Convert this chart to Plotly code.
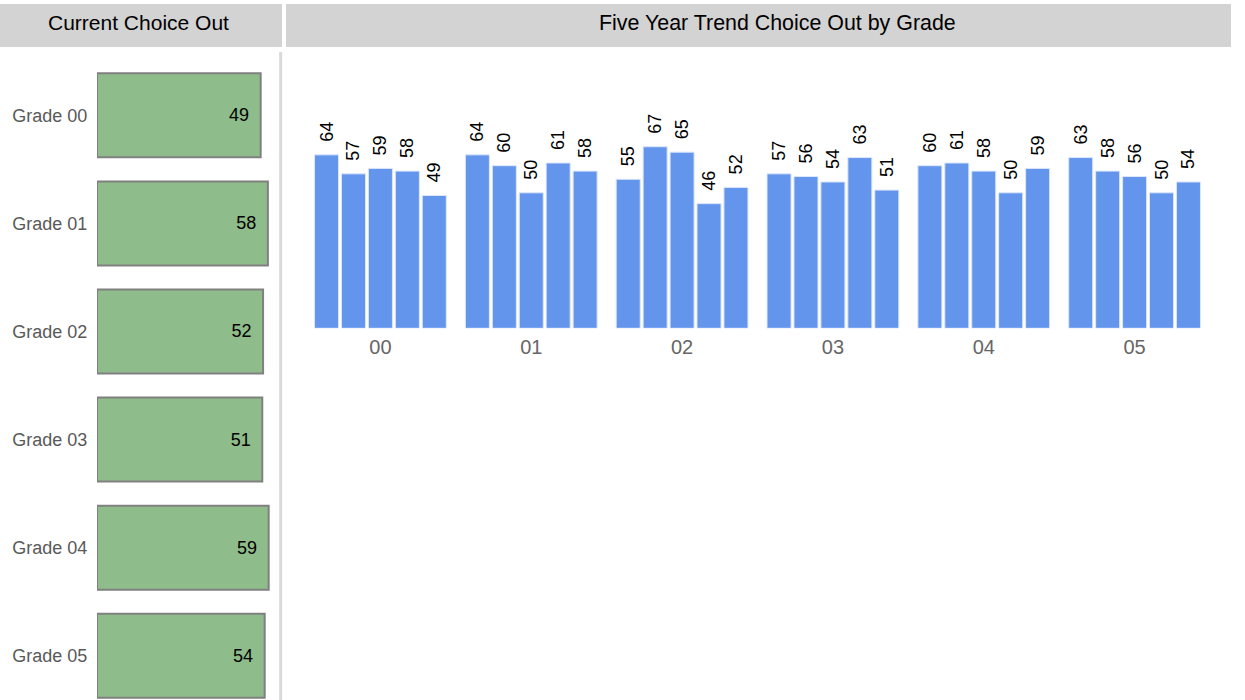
import plotly.graph_objects as go

# ---- data ----
grade_codes = ["00", "01", "02", "03", "04", "05"]
grade_labels = ["Grade 00", "Grade 01", "Grade 02", "Grade 03", "Grade 04", "Grade 05"]
current_choice_out = [49, 58, 52, 51, 59, 54]

year_names = ["Year 1", "Year 2", "Year 3", "Year 4", "Year 5"]
trend_year1 = [64, 64, 55, 57, 60, 63]
trend_year2 = [57, 60, 67, 56, 61, 58]
trend_year3 = [59, 50, 65, 54, 58, 56]
trend_year4 = [58, 61, 46, 63, 50, 50]
trend_year5 = [49, 58, 52, 51, 59, 54]
trend_series = [trend_year1, trend_year2, trend_year3, trend_year4, trend_year5]

left_title = "Current Choice Out"
right_title = "Five Year Trend Choice Out by Grade"

# ---- layout helpers ----
W, H = 1245, 700
FONT = "Arial, Liberation Sans, sans-serif"
LEFT_AXIS_MIN = -155.6   # value axis of the left panel starts here (bars grow from the axis start)
LEFT_AXIS_MAX = 74.4


def px_x(p):
    return p / W


def px_y(p):
    return 1 - p / H


fig = go.Figure()

# left panel: current values (bars drawn from the start of the value axis)
fig.add_trace(go.Bar(
    x=[v - LEFT_AXIS_MIN for v in current_choice_out],
    base=LEFT_AXIS_MIN,
    y=grade_labels,
    orientation="h",
    width=0.777,
    marker=dict(color="#8FBC8B", line=dict(color="#808080", width=2)),
    text=current_choice_out,
    texttemplate="%{text}\u00a0\u2009",
    textposition="inside",
    insidetextanchor="end",
    insidetextfont=dict(size=18, color="#000000", family=FONT),
    constraintext="none",
    cliponaxis=False,
    xaxis="x",
    yaxis="y",
    hoverinfo="skip",
    showlegend=False,
))

# right panel: five year trend
for name, vals in zip(year_names, trend_series):
    fig.add_trace(go.Bar(
        x=grade_codes,
        y=vals,
        name=name,
        marker=dict(color="#6495ED", line=dict(color="#DCE6FA", width=1)),
        text=vals,
        texttemplate="\u00a0\u00a0%{text}",
        textposition="outside",
        textangle=-90,
        textfont=dict(size=18, color="#000000", family=FONT),
        constraintext="none",
        cliponaxis=False,
        xaxis="x2",
        yaxis="y2",
        showlegend=False,
    ))

fig.update_layout(
    width=W,
    height=H,
    margin=dict(l=0, r=0, t=0, b=0),
    paper_bgcolor="white",
    plot_bgcolor="white",
    barmode="group",
    bargap=0.107,
    bargroupgap=0.108,
    font=dict(family=FONT),
    xaxis=dict(
        domain=[px_x(97), px_x(281)],
        range=[LEFT_AXIS_MIN, LEFT_AXIS_MAX],
        showticklabels=False,
        showgrid=False,
        zeroline=False,
        showline=False,
        anchor="y",
        fixedrange=True,
    ),
    yaxis=dict(
        domain=[0, px_y(61.25)],
        type="category",
        categoryorder="array",
        categoryarray=grade_labels,
        range=[5.409, -0.5],
        showgrid=False,
        zeroline=False,
        showline=False,
        ticks="outside",
        ticklen=5,
        tickcolor="rgba(0,0,0,0)",
        tickfont=dict(size=18, color="#595959", family=FONT),
        anchor="x",
        automargin=False,
    ),
    xaxis2=dict(
        domain=[px_x(305), px_x(1210)],
        type="category",
        showgrid=False,
        zeroline=False,
        showline=False,
        ticks="outside",
        ticklen=1,
        tickcolor="rgba(0,0,0,0)",
        tickfont=dict(size=20, color="#666666", family=FONT),
        anchor="y2",
        automargin=False,
    ),
    yaxis2=dict(
        domain=[px_y(328.3), px_y(57.3)],
        range=[0, 100],
        visible=False,
        anchor="x2",
    ),
    shapes=[
        dict(type="rect", xref="paper", yref="paper",
             x0=0, x1=px_x(282), y0=px_y(47), y1=px_y(4),
             fillcolor="#D3D3D3", line=dict(width=0), layer="below"),
        dict(type="rect", xref="paper", yref="paper",
             x0=px_x(286), x1=px_x(1231), y0=px_y(47), y1=px_y(4),
             fillcolor="#D3D3D3", line=dict(width=0), layer="below"),
        dict(type="line", xref="paper", yref="paper",
             x0=px_x(280.7), x1=px_x(280.7), y0=px_y(52), y1=0,
             line=dict(color="#D9D9D9", width=3)),
    ],
    annotations=[
        dict(text=left_title, xref="paper", yref="paper",
             x=px_x(138), y=px_y(23), xanchor="center", yanchor="middle",
             showarrow=False, font=dict(size=21, color="#000000", family=FONT)),
        dict(text=right_title, xref="paper", yref="paper",
             x=px_x(777.5), y=px_y(23), xanchor="center", yanchor="middle",
             showarrow=False, font=dict(size=21.4, color="#000000", family=FONT)),
    ],
)

fig.write_html(
    "out.html",
    config={"displayModeBar": False},
    post_script="document.body.style.margin='0';document.body.style.overflow='hidden';",
)
